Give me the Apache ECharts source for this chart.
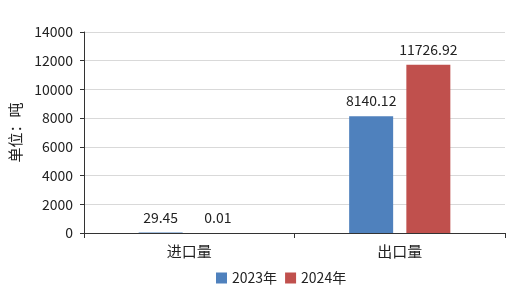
<!DOCTYPE html>
<html><head><meta charset="utf-8">
<script src="https://cdn.jsdelivr.net/npm/echarts@6/dist/echarts.min.js"></script>
<style>html,body{margin:0;padding:0;background:#fff}#c{width:520px;height:298px}</style>
</head><body><div id="c"></div>
<script>
const categories = ['进口量', '出口量'];
const seriesNames = ['2023年', '2024年'];
const values2023 = [29.45, 8140.12];
const values2024 = [0.01, 11726.92];
const yMin = 0, yMax = 14000, yInterval = 2000;

const font = '"Noto Sans CJK SC", "Noto Sans", sans-serif';
const chart = echarts.init(document.getElementById('c'));
const labelCfg = {show: true, position: 'top', distance: 8, color: '#222', fontSize: 14, fontFamily: font,
  formatter: p => String(p.value)};
chart.setOption({
  animation: false,
  textStyle: {fontFamily: font},
  grid: {left: 84, right: 15, top: 32, bottom: 65},
  legend: {bottom: 8, left: 211, itemWidth: 11, itemHeight: 11, itemGap: 8,
    icon: 'rect', textStyle: {fontSize: 14, color: '#222', fontFamily: font}, data: seriesNames},
  xAxis: {type: 'category', data: categories,
    axisLine: {lineStyle: {color: '#333'}},
    axisTick: {show: true, length: 5, lineStyle: {color: '#333'}},
    axisLabel: {color: '#222', fontSize: 15, margin: 11, fontFamily: font}},
  yAxis: {type: 'value', min: yMin, max: yMax, interval: yInterval,
    name: '单位：吨', nameLocation: 'middle', nameGap: 57, nameRotate: 90,
    nameTextStyle: {fontSize: 15, color: '#222', fontFamily: font},
    axisLine: {show: true, lineStyle: {color: '#333'}},
    axisTick: {show: true, length: 4, lineStyle: {color: '#333'}},
    axisLabel: {color: '#222', fontSize: 14, margin: 11, fontFamily: font, formatter: v => String(v)},
    splitLine: {lineStyle: {color: '#d9d9d9'}}},
  series: [
    {name: seriesNames[0], type: 'bar', data: values2023, barWidth: 44, barGap: '30%',
      itemStyle: {color: '#4F81BD'}, label: labelCfg},
    {name: seriesNames[1], type: 'bar', data: values2024, barWidth: 44,
      itemStyle: {color: '#C0504D'}, label: labelCfg}
  ]
});
</script></body></html>
